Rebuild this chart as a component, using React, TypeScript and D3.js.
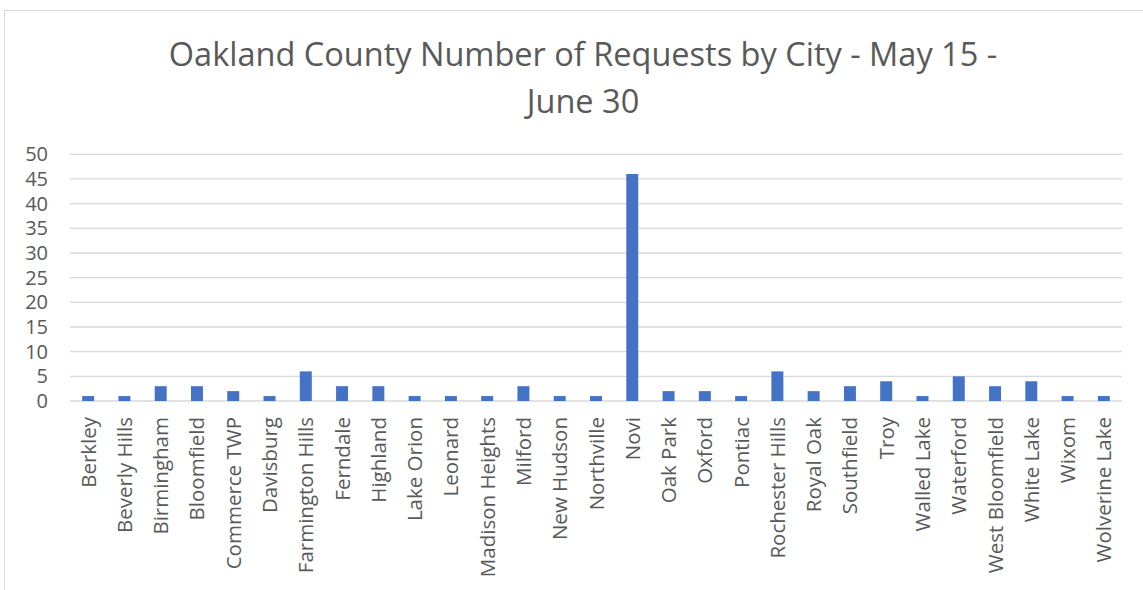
import React, { useEffect, useRef } from "react";
import * as d3 from "d3";

const cities = [
  "Berkley", "Beverly Hills", "Birmingham", "Bloomfield", "Commerce TWP",
  "Davisburg", "Farmington Hills", "Ferndale", "Highland", "Lake Orion",
  "Leonard", "Madison Heights", "Milford", "New Hudson", "Northville",
  "Novi", "Oak Park", "Oxford", "Pontiac", "Rochester Hills", "Royal Oak",
  "Southfield", "Troy", "Walled Lake", "Waterford", "West Bloomfield",
  "White Lake", "Wixom", "Wolverine Lake",
];
const requests = [1, 1, 3, 3, 2, 1, 6, 3, 3, 1, 1, 1, 3, 1, 1, 46, 2, 2, 1, 6, 2, 3, 4, 1, 5, 3, 4, 1, 1];
const yTicks = [0, 5, 10, 15, 20, 25, 30, 35, 40, 45, 50];
const titleLines = ["Oakland County Number of Requests by City - May 15 -", "June 30"];

const W = 1143;
const H = 590;
const plot = { left: 70, right: 1122, top: 154.3, bottom: 401 };
const textColor = "#595959";
const font = "'Open Sans', sans-serif";

export default function App() {
  const ref = useRef<SVGSVGElement>(null);

  useEffect(() => {
    const svg = d3.select(ref.current);
    svg.selectAll("*").remove();

    // Chart frame
    svg.append("rect")
      .attr("x", 4.5).attr("y", 10.5)
      .attr("width", W + 20).attr("height", H + 20)
      .attr("fill", "white").attr("stroke", "#D9D9D9").attr("stroke-width", 1);

    const x = d3.scaleBand<string>()
      .domain(cities)
      .range([plot.left, plot.right])
      .paddingInner(0.67).paddingOuter(0.335);
    const y = d3.scaleLinear().domain([0, 50]).range([plot.bottom, plot.top]);

    // Gridlines
    svg.append("g").selectAll("line").data(yTicks).join("line")
      .attr("x1", plot.left).attr("x2", plot.right)
      .attr("y1", (d) => y(d)).attr("y2", (d) => y(d))
      .attr("stroke", "#D9D9D9").attr("stroke-width", 1.3);

    // Y tick labels
    svg.append("g").selectAll("text").data(yTicks).join("text")
      .attr("x", 48).attr("y", (d) => y(d)).attr("dy", "0.35em")
      .attr("text-anchor", "end")
      .attr("font-family", font).attr("font-size", 20).attr("fill", textColor)
      .text((d) => d);

    // Bars
    svg.append("g").selectAll("rect").data(cities).join("rect")
      .attr("x", (d) => x(d)!)
      .attr("width", x.bandwidth())
      .attr("y", (_, i) => y(requests[i]))
      .attr("height", (_, i) => y(0) - y(requests[i]))
      .attr("fill", "#4472C4");

    // Category labels, rotated
    svg.append("g").selectAll("text").data(cities).join("text")
      .attr("transform", (d) => `translate(${x(d)! + x.bandwidth() / 2 + 7.5},417) rotate(-90)`)
      .attr("text-anchor", "end")
      .attr("font-family", font).attr("font-size", 20.5).attr("fill", textColor)
      .text((d) => d);

    // Title
    svg.append("g").selectAll("text").data(titleLines).join("text")
      .attr("x", 583).attr("y", (_, i) => 66 + i * 47)
      .attr("text-anchor", "middle")
      .attr("font-family", font)
      .attr("font-size", 32.5).attr("fill", textColor)
      .text((d) => d);
  }, []);

  return (
    <svg
      ref={ref}
      width={W}
      height={H}
      style={{ position: "absolute", left: 0, top: 0, display: "block", background: "white" }}
    />
  );
}
